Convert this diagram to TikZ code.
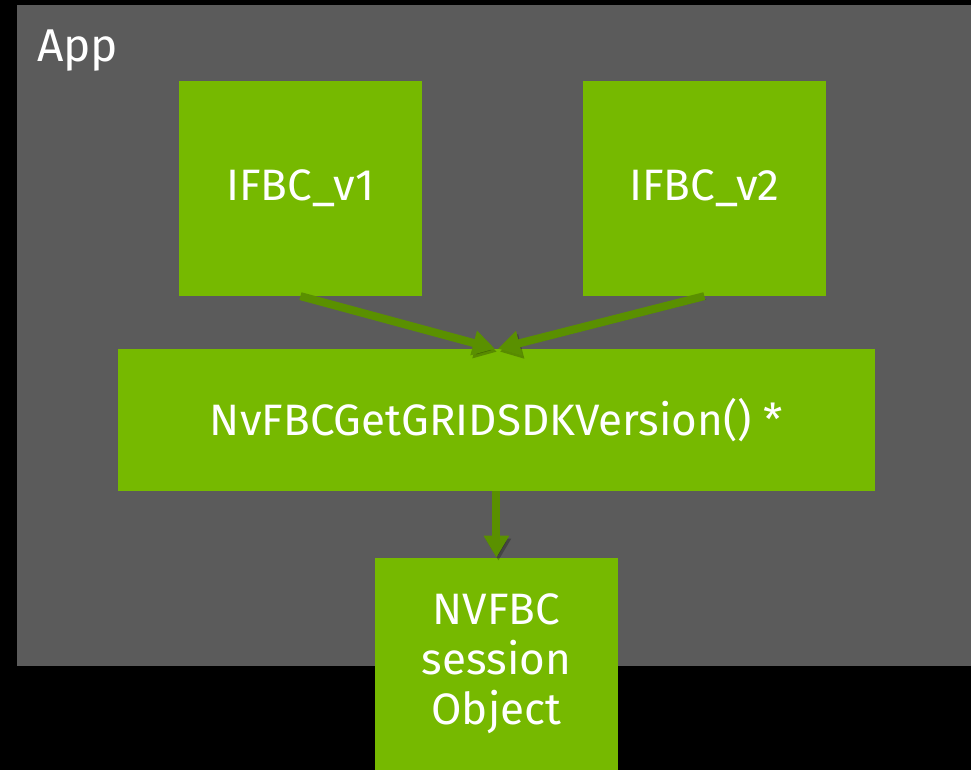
\documentclass[tikz,border=0pt]{standalone}
\usepackage{fontspec}
\setmainfont{Fira Sans}
\usetikzlibrary{arrows.meta}
\definecolor{nvgreen}{RGB}{118,185,0}
\definecolor{arrowgreen}{RGB}{90,144,0}
\definecolor{appgray}{RGB}{91,91,91}
\begin{document}
\begin{tikzpicture}[x=1pt,y=-1pt]
        \tikzset{box/.style={rectangle, fill=nvgreen, draw=none, text=white, inner sep=0pt, align=center, font=\fontsize{44}{50}\selectfont},
          flow/.style={draw=arrowgreen, line width=8pt, -{Triangle[width=24pt,length=22pt]},
            preaction={draw=black, opacity=0.25, transform canvas={shift={(2pt,-3pt)}}}}}
        \fill[black] (0,0) rectangle (971,770);
        \node[fill=appgray, minimum width=954pt, minimum height=661pt, inner sep=0pt, anchor=north west] (app) at (17,5) {};
        \node[text=white, anchor=base west, inner sep=0pt, font=\fontsize{46}{50}\selectfont] (applabel) at (37,62) {App};
        \node[box, minimum width=243pt, minimum height=215pt] (v1) at (300.5,188.5) {IFBC\_v1};
        \node[box, minimum width=243pt, minimum height=215pt] (v2) at (704.5,188.5) {IFBC\_v2};
        \node[box, minimum width=757pt, minimum height=142pt] (getver) at (496.5,420) {NvFBCGetGRIDSDKVersion() *};
        \node[box, minimum width=243pt, minimum height=212pt] (session) at (496.5,664) {NVFBC\\session\\Object};
        \draw[flow] (v1.south) -- ([xshift=-1.5pt]getver.north);
        \draw[flow] (v2.south) -- ([xshift=1.5pt]getver.north);
        \draw[flow] (getver.south) -- (session.north);
      \end{tikzpicture}
\end{document}
